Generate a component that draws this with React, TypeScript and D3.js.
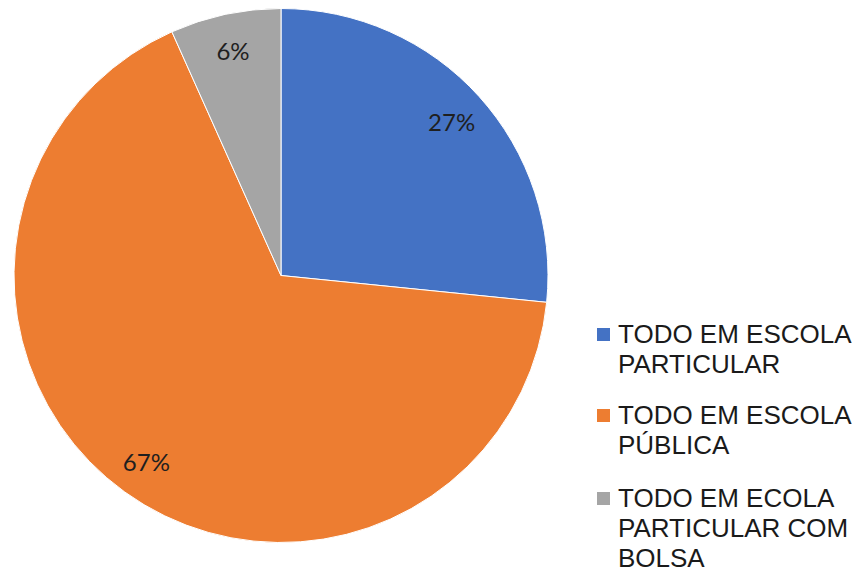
import React from "react";
import * as d3 from "d3";

const categories: string[][] = [
  ["TODO EM ESCOLA", "PARTICULAR"],
  ["TODO EM ESCOLA", "PÚBLICA"],
  ["TODO EM ECOLA", "PARTICULAR COM", "BOLSA"],
];
const values: number[] = [26.6, 66.7, 6.7];
const valueLabels: string[] = ["27%", "67%", "6%"];
const colors: string[] = ["#4472C4", "#ED7D31", "#A5A5A5"];

const W = 861;
const H = 572;
const cx = 281;
const cy = 275.5;
const R = 267;

export default function App() {
  const pie = d3.pie<number>().sort(null).value((d) => d)(values);
  const arc = d3.arc<d3.PieArcDatum<number>>().innerRadius(0).outerRadius(R);
  const labelArc = d3
    .arc<d3.PieArcDatum<number>>()
    .innerRadius(230)
    .outerRadius(230);

  const legendX = 597;
  const legendY = [343, 424, 507];
  const lineH = 30;

  return (
    <svg
      width={W}
      height={H}
      style={{ position: "absolute", left: 0, top: 0, background: "#fff" }}
    >
      <g transform={`translate(${cx},${cy})`}>
        {pie.map((p, i) => (
          <path
            key={i}
            d={arc(p) || ""}
            fill={colors[i]}
            stroke="#fff"
            strokeWidth={1}
          />
        ))}
        {pie.map((p, i) => {
          const [x, y] = labelArc.centroid(p);
          return (
            <text
              key={"l" + i}
              x={x}
              y={y}
              textAnchor="middle"
              dominantBaseline="central"
              fontFamily="Lato, 'Open Sans', sans-serif"
              fontSize={24}
              fill="#1f1f1f"
            >
              {valueLabels[i]}
            </text>
          );
        })}
      </g>
      {categories.map((lines, i) => (
        <g key={"lg" + i}>
          <rect
            x={legendX}
            y={legendY[i] - 15}
            width={13}
            height={13}
            fill={colors[i]}
          />
          {lines.map((t, j) => (
            <text
              key={j}
              x={618}
              y={legendY[i] + j * lineH}
              fontFamily="'Liberation Sans', Arial, sans-serif"
              fontSize={26}
              fill="#1a1a1a"
            >
              {t}
            </text>
          ))}
        </g>
      ))}
    </svg>
  );
}
